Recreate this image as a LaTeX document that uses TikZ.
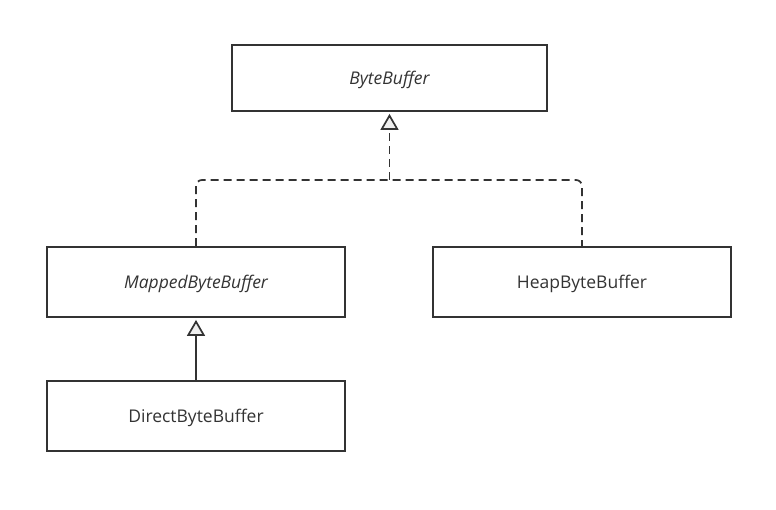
\documentclass[tikz,border=0pt]{standalone}
\usepackage{fontspec}
\setmainfont{Open Sans}
\usetikzlibrary{arrows.meta}

\definecolor{umlline}{HTML}{333333}
\definecolor{umltip}{HTML}{EEEEEE}

\tikzset{
	classbox/.style={draw=umlline, line width=1.8pt, fill=white, minimum width=298pt, minimum height=70pt, inner sep=0pt, text height=13pt, text depth=0pt, font=\fontsize{17.5}{21}\selectfont, text=umlline},
	realize/.style={draw=umlline, line width=1.7pt, dash pattern=on 8pt off 5pt},
	extends/.style={draw=umlline, line width=1.7pt},
	hollow/.style={-{Triangle[length=16pt, width=18pt, fill=umltip, line width=1.7pt]}},
}

\begin{document}
\begin{tikzpicture}[x=1pt, y=-1pt]
	\fill[white] (0,0) rectangle (776,510);
	\useasboundingbox (0,0) rectangle (776,510);

	\node[classbox, minimum width=315pt, minimum height=66pt] (bytebuf) at (389.5,78) {\itshape ByteBuffer};
	\node[classbox] (mapped) at (196,282) {\itshape MappedByteBuffer};
	\node[classbox] (heap) at (582,282) {HeapByteBuffer};
	\node[classbox] (direct) at (196,416) {DirectByteBuffer};

	\coordinate (join) at (bytebuf.south |- 0,180);

	\draw[realize, rounded corners=6pt] (mapped.north) |- (join) -| (heap.north);
	\draw[realize, hollow] (join) -- ([yshift=-2pt]bytebuf.south);
	\draw[extends, hollow] (direct.north) -- ([yshift=-2pt]mapped.south);
\end{tikzpicture}
\end{document}
